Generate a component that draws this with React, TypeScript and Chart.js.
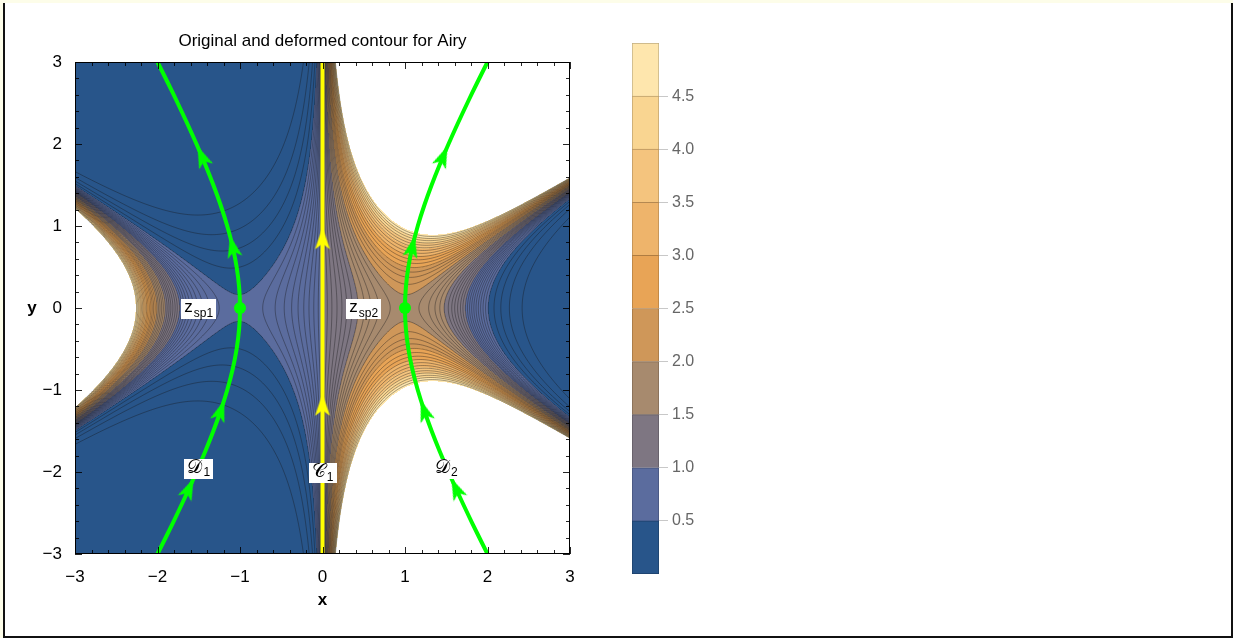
import React, { useEffect, useRef } from "react";
import { Chart, registerables } from "chart.js";

Chart.register(...registerables);

const FONT = "'Liberation Sans', Arial, Helvetica, sans-serif";
const SCRIPT_FONT = "'DejaVu Sans', 'DejaVu Serif', 'Noto Sans', serif";

// ---------- axes ----------
const xTickValues = [-3, -2, -1, 0, 1, 2, 3];
const xTickLabels = ["\u22123", "\u22122", "\u22121", "0", "1", "2", "3"];
const yTickValues = [-3, -2, -1, 0, 1, 2, 3];
const yTickLabels = ["\u22123", "\u22122", "\u22121", "0", "1", "2", "3"];
const frameMinorStep = 0.2;
const plotTitle = "Original and deformed contour for Airy";
const xAxisTitle = "x";
const yAxisTitle = "y";

// ---------- contour field: |exp(z - z^3/3)|, z = x + i y ----------
const bandEdges = [0, 0.5, 1, 1.5, 2, 2.5, 3, 3.5, 4, 4.5, 5];
const bandColors = [
  "#28558a", "#5b6c9e", "#7e7682", "#a78a6e", "#cf9759",
  "#e8a456", "#eeb46b", "#f4c47e", "#f9d591", "#fee6ad",
];
const bandBorderColors = [
  "#1d3f68", "#44527a", "#5f5962", "#7e6853", "#9c7243",
  "#af7c41", "#b48851", "#b8945f", "#bca06d", "#bfad82",
];
const contourLevels = [
  0.1, 0.2, 0.3, 0.4, 0.5,
  0.55, 0.6, 0.65, 0.7, 0.75, 0.8, 0.85, 0.9, 0.95, 1.0,
  1.06, 1.12, 1.19, 1.26, 1.33, 1.41, 1.5,
  1.59, 1.68, 1.78, 1.89, 2.0,
  2.12, 2.25, 2.38, 2.52, 2.67, 2.83, 3.0,
  3.18, 3.37, 3.57, 3.78, 4.0, 4.24, 4.49, 4.75,
];
const fieldExponent = (x: number, y: number) => x - (x * x * x) / 3 + x * y * y;

// ---------- colour bar ----------
const colorbarTicks = [0.5, 1, 1.5, 2, 2.5, 3, 3.5, 4, 4.5];
const colorbarLabels = ["0.5", "1.0", "1.5", "2.0", "2.5", "3.0", "3.5", "4.0", "4.5"];

// ---------- contours ----------
const c1PathX = [0, 0];
const c1PathY = [-3, 3];
const dPathY = [
  -3, -2.75, -2.5, -2.25, -2, -1.75, -1.5, -1.25, -1, -0.75, -0.5, -0.25, 0,
  0.25, 0.5, 0.75, 1, 1.25, 1.5, 1.75, 2, 2.25, 2.5, 2.75, 3,
];
const d1PathX = [
  -2, -1.8764, -1.7559, -1.6394, -1.5275, -1.4216, -1.3229, -1.2332, -1.1547, -1.0897, -1.0408, -1.0104, -1,
  -1.0104, -1.0408, -1.0897, -1.1547, -1.2332, -1.3229, -1.4216, -1.5275, -1.6394, -1.7559, -1.8764, -2,
];
const d2PathX = [
  2, 1.8764, 1.7559, 1.6394, 1.5275, 1.4216, 1.3229, 1.2332, 1.1547, 1.0897, 1.0408, 1.0104, 1,
  1.0104, 1.0408, 1.0897, 1.1547, 1.2332, 1.3229, 1.4216, 1.5275, 1.6394, 1.7559, 1.8764, 2,
];
const saddleX = [-1, 1];
const saddleY = [0, 0];
const greenArrowX = [-1.6166, -1.2332, -1.0897, -1.4631, 1.6166, 1.2332, 1.0897, 1.4631];
const greenArrowY = [-2.2, -1.25, 0.75, 1.85, -2.2, -1.25, 0.75, 1.85];
const greenArrowAngle = [24.4, 18.7, -12.9, -22.9, -24.4, -18.7, 12.9, 22.9];
const yellowArrowX = [0, 0];
const yellowArrowY = [-1.18, 0.85];
const yellowArrowAngle = [0, 0];

// ---------- labels ----------
const labelX = [-1.5, 0.5, -1.5, 0, 1.5];
const labelY = [0, 0, -1.95, -2, -1.95];
const labelMain = ["z", "z", "\u{1D49F}", "\u{1D49E}", "\u{1D49F}"];
const labelSub = ["sp1", "sp2", "1", "1", "2"];
const labelScript = [false, false, true, true, true];

const GREEN = "#00ff00";
const YELLOW = "#ffff00";

function hexToRgb(h: string) {
  const n = parseInt(h.slice(1), 16);
  return [(n >> 16) & 255, (n >> 8) & 255, n & 255];
}

function makeArrow(color: string) {
  const c = document.createElement("canvas");
  c.width = 18;
  c.height = 24;
  const g = c.getContext("2d")!;
  g.fillStyle = color;
  g.beginPath();
  g.moveTo(9, 1);
  g.lineTo(16.5, 23);
  g.lineTo(9, 17.5);
  g.lineTo(1.5, 23);
  g.closePath();
  g.fill();
  return c;
}

const pts = (xs: number[], ys: number[]) => xs.map((x, i) => ({ x, y: ys[i] }));

const fieldPlugin = {
  id: "field",
  beforeDatasetsDraw(chart: any) {
    const { ctx, chartArea: a } = chart;
    const sx = chart.scales.x;
    const sy = chart.scales.y;
    const W = Math.round(a.right - a.left);
    const H = Math.round(a.bottom - a.top);
    const img = ctx.createImageData(W, H);
    const rgb = bandColors.map(hexToRgb);
    const bw = bandEdges[1] - bandEdges[0];
    const nb = bandColors.length;
    const xs = new Float64Array(W);
    for (let i = 0; i < W; i++) xs[i] = sx.getValueForPixel(a.left + i + 0.5);
    for (let j = 0; j < H; j++) {
      const yv = sy.getValueForPixel(a.top + j + 0.5);
      for (let i = 0; i < W; i++) {
        const v = Math.exp(fieldExponent(xs[i], yv));
        const k = Math.floor((v - bandEdges[0]) / bw);
        const o = (j * W + i) * 4;
        if (k >= nb) {
          img.data[o] = 255; img.data[o + 1] = 255; img.data[o + 2] = 255;
        } else {
          const c = rgb[Math.max(0, k)];
          img.data[o] = c[0]; img.data[o + 1] = c[1]; img.data[o + 2] = c[2];
        }
        img.data[o + 3] = 255;
      }
    }
    ctx.putImageData(img, a.left, a.top);

    // contour lines (marching squares on the log of the field)
    const nx = Math.ceil(W / 2);
    const ny = Math.ceil(H / 2);
    const cw = W / nx;
    const ch = H / ny;
    const F: Float64Array[] = [];
    for (let j = 0; j <= ny; j++) {
      const row = new Float64Array(nx + 1);
      const yv = sy.getValueForPixel(a.top + j * ch);
      for (let i = 0; i <= nx; i++) row[i] = fieldExponent(sx.getValueForPixel(a.left + i * cw), yv);
      F.push(row);
    }
    const levels = contourLevels.map((L) => Math.log(L));
    ctx.save();
    ctx.beginPath();
    ctx.rect(a.left, a.top, a.right - a.left, a.bottom - a.top);
    ctx.clip();
    ctx.beginPath();
    for (let j = 0; j < ny; j++) {
      for (let i = 0; i < nx; i++) {
        const f0 = F[j][i], f1 = F[j][i + 1], f2 = F[j + 1][i + 1], f3 = F[j + 1][i];
        const mn = Math.min(f0, f1, f2, f3), mx = Math.max(f0, f1, f2, f3);
        if (mx < levels[0] || mn > levels[levels.length - 1]) continue;
        const x0 = a.left + i * cw, y0 = a.top + j * ch;
        for (let li = 0; li < levels.length; li++) {
          const L = levels[li];
          if (L < mn || L >= mx) continue;
          const cr: number[][] = [];
          if ((f0 < L) !== (f1 < L)) cr.push([x0 + cw * (L - f0) / (f1 - f0), y0]);
          if ((f1 < L) !== (f2 < L)) cr.push([x0 + cw, y0 + ch * (L - f1) / (f2 - f1)]);
          if ((f3 < L) !== (f2 < L)) cr.push([x0 + cw * (L - f3) / (f2 - f3), y0 + ch]);
          if ((f0 < L) !== (f3 < L)) cr.push([x0, y0 + ch * (L - f0) / (f3 - f0)]);
          if (cr.length === 2) {
            ctx.moveTo(cr[0][0], cr[0][1]);
            ctx.lineTo(cr[1][0], cr[1][1]);
          } else if (cr.length === 4) {
            const fc = (f0 + f1 + f2 + f3) / 4;
            if ((fc < L) !== (f0 < L)) {
              ctx.moveTo(cr[0][0], cr[0][1]); ctx.lineTo(cr[3][0], cr[3][1]);
              ctx.moveTo(cr[1][0], cr[1][1]); ctx.lineTo(cr[2][0], cr[2][1]);
            } else {
              ctx.moveTo(cr[0][0], cr[0][1]); ctx.lineTo(cr[1][0], cr[1][1]);
              ctx.moveTo(cr[2][0], cr[2][1]); ctx.lineTo(cr[3][0], cr[3][1]);
            }
          }
        }
      }
    }
    ctx.strokeStyle = "rgba(20,20,25,0.5)";
    ctx.lineWidth = 0.75;
    ctx.stroke();
    ctx.restore();
  },
};

const decorPlugin = {
  id: "decor",
  afterDatasetsDraw(chart: any) {
    const { ctx } = chart;
    const sx = chart.scales.x;
    const sy = chart.scales.y;
    // labels with white boxes
    for (let k = 0; k < labelMain.length; k++) {
      const px = sx.getPixelForValue(labelX[k]);
      const py = sy.getPixelForValue(labelY[k]);
      const script = labelScript[k];
      const mainFont = script ? `19px ${SCRIPT_FONT}` : `17px ${FONT}`;
      const subFont = script ? `12px ${FONT}` : `12px ${FONT}`;
      ctx.font = mainFont;
      const w1 = ctx.measureText(labelMain[k]).width;
      ctx.font = subFont;
      const w2 = ctx.measureText(labelSub[k]).width;
      const total = w1 + 1 + w2;
      const left = px - total / 2;
      ctx.fillStyle = "#ffffff";
      ctx.fillRect(Math.round(left - 3), Math.round(py - 9), Math.round(total + 6), 20);
      ctx.fillStyle = "#000000";
      ctx.textAlign = "left";
      ctx.textBaseline = "alphabetic";
      ctx.font = mainFont;
      ctx.fillText(labelMain[k], left, script ? py + 5 : py + 4);
      ctx.font = subFont;
      ctx.fillText(labelSub[k], left + w1 + 1, py + 8.5);
    }
  },
  afterDraw(chart: any) {
    const { ctx, chartArea: a } = chart;
    const sx = chart.scales.x;
    const sy = chart.scales.y;
    ctx.save();
    // frame
    ctx.strokeStyle = "#000";
    ctx.lineWidth = 1;
    ctx.strokeRect(a.left + 0.5, a.top + 0.5, a.right - a.left - 1, a.bottom - a.top - 1);
    // ticks
    ctx.strokeStyle = "rgba(0,0,0,0.85)";
    ctx.beginPath();
    const n = Math.round((sx.max - sx.min) / frameMinorStep);
    for (let t = 0; t <= n; t++) {
      const v = sx.min + t * frameMinorStep;
      const major = Math.abs(v - Math.round(v)) < 1e-6;
      const len = major ? 7 : 4;
      const px = Math.round(sx.getPixelForValue(v)) + 0.5;
      ctx.moveTo(px, a.bottom); ctx.lineTo(px, a.bottom - len);
      ctx.moveTo(px, a.top); ctx.lineTo(px, a.top + len);
    }
    const m = Math.round((sy.max - sy.min) / frameMinorStep);
    for (let t = 0; t <= m; t++) {
      const v = sy.min + t * frameMinorStep;
      const major = Math.abs(v - Math.round(v)) < 1e-6;
      const len = major ? 7 : 4;
      const py = Math.round(sy.getPixelForValue(v)) + 0.5;
      ctx.moveTo(a.left, py); ctx.lineTo(a.left + len, py);
      ctx.moveTo(a.right, py); ctx.lineTo(a.right - len, py);
    }
    ctx.stroke();
    // title and axis titles
    ctx.fillStyle = "#000";
    ctx.textAlign = "center";
    ctx.textBaseline = "alphabetic";
    ctx.font = `17px ${FONT}`;
    ctx.fillText(plotTitle, (a.left + a.right) / 2, 46);
    ctx.font = `bold 17px ${FONT}`;
    ctx.fillText(xAxisTitle, (a.left + a.right) / 2, 605);
    ctx.fillText(yAxisTitle, 32, (a.top + a.bottom) / 2 + 5);
    ctx.restore();
  },
};

export default function App() {
  const mainRef = useRef<HTMLCanvasElement>(null);
  const barRef = useRef<HTMLCanvasElement>(null);

  useEffect(() => {
    const greenArrow = makeArrow(GREEN);
    const yellowArrow = makeArrow(YELLOW);

    const main = new Chart(mainRef.current!, {
      type: "scatter",
      data: {
        datasets: [
          {
            data: pts(c1PathX, c1PathY),
            showLine: true,
            borderColor: YELLOW,
            borderWidth: 4,
            pointRadius: 0,
            clip: 0,
          },
          {
            data: pts(d1PathX, dPathY),
            showLine: true,
            borderColor: GREEN,
            borderWidth: 4,
            pointRadius: 0,
            tension: 0.3,
            clip: 0,
          },
          {
            data: pts(d2PathX, dPathY),
            showLine: true,
            borderColor: GREEN,
            borderWidth: 4,
            pointRadius: 0,
            tension: 0.3,
            clip: 0,
          },
          {
            data: pts(greenArrowX, greenArrowY),
            pointStyle: greenArrow as any,
            pointRadius: 10,
            pointRotation: greenArrowAngle as any,
          },
          {
            data: pts(yellowArrowX, yellowArrowY),
            pointStyle: yellowArrow as any,
            pointRadius: 10,
            pointRotation: yellowArrowAngle as any,
          },
          {
            data: pts(saddleX, saddleY),
            pointRadius: 6,
            pointBackgroundColor: GREEN,
            pointBorderWidth: 0,
            borderColor: GREEN,
          },
        ] as any,
      },
      options: {
        responsive: false,
        devicePixelRatio: 1,
        animation: false,
        events: [],
        layout: { padding: { left: 0, top: 62, right: 663, bottom: 54 } },
        plugins: {
          legend: { display: false },
          tooltip: { enabled: false },
          title: { display: false },
        },
        scales: {
          x: {
            type: "linear",
            min: -3,
            max: 3,
            afterBuildTicks: (s: any) => {
              s.ticks = xTickValues.map((v) => ({ value: v }));
            },
            afterFit: (s: any) => {
              s.height = 30;
            },
            grid: { display: false },
            border: { display: false },
            ticks: {
              color: "#000",
              padding: 5,
              maxRotation: 0,
              autoSkip: false,
              font: { family: FONT, size: 17 },
              callback: (v: any) => xTickLabels[xTickValues.indexOf(Number(v))] ?? "",
            },
          },
          y: {
            type: "linear",
            min: -3,
            max: 3,
            afterBuildTicks: (s: any) => {
              s.ticks = yTickValues.map((v) => ({ value: v }));
            },
            afterFit: (s: any) => {
              s.width = 75;
            },
            grid: { display: false },
            border: { display: false },
            ticks: {
              color: "#000",
              padding: 5,
              autoSkip: false,
              font: { family: FONT, size: 17 },
              callback: (v: any) => yTickLabels[yTickValues.indexOf(Number(v))] ?? "",
            },
          },
        },
      } as any,
      plugins: [fieldPlugin, decorPlugin],
    });

    const bar = new Chart(barRef.current!, {
      type: "bar",
      data: {
        labels: [""],
        datasets: bandColors.map((c, k) => ({
          data: [bandEdges[k + 1] - bandEdges[k]],
          backgroundColor: c,
          borderColor: bandBorderColors[k],
          borderWidth: { left: 1, right: 1, top: 1, bottom: k === 0 ? 1 : 0 },
          borderSkipped: false,
          barPercentage: 1,
          categoryPercentage: 1,
          stack: "s",
        })) as any,
      },
      options: {
        responsive: false,
        devicePixelRatio: 1,
        animation: false,
        events: [],
        layout: { padding: { left: 32, top: 43, right: 0, bottom: 64 } },
        plugins: { legend: { display: false }, tooltip: { enabled: false } },
        scales: {
          x: { stacked: true, display: false },
          y: {
            stacked: true,
            min: bandEdges[0],
            max: bandEdges[bandEdges.length - 1],
            position: "right",
            afterBuildTicks: (s: any) => {
              s.ticks = colorbarTicks.map((v) => ({ value: v }));
            },
            afterFit: (s: any) => {
              s.width = 61;
            },
            grid: { drawOnChartArea: false, drawTicks: true, tickLength: 9, color: "#c8c8c8" },
            border: { display: false },
            ticks: {
              color: "#666",
              padding: 4,
              autoSkip: false,
              font: { family: FONT, size: 16 },
              callback: (v: any) => colorbarLabels[colorbarTicks.indexOf(Number(v))] ?? "",
            },
          },
        },
      } as any,
    });

    return () => {
      main.destroy();
      bar.destroy();
    };
  }, []);

  return (
    <div
      style={{
        position: "fixed",
        left: 0,
        top: 0,
        width: 1233,
        height: 638,
        background: "#fdfde9",
        overflow: "hidden",
      }}
    >
      <div
        style={{
          position: "absolute",
          left: 3,
          top: 3,
          width: 1226,
          height: 633,
          background: "#ffffff",
          borderLeft: "2px solid #111",
          borderRight: "2px solid #111",
          borderBottom: "2px solid #111",
        }}
      />
      <canvas
        ref={mainRef}
        width={1233}
        height={638}
        style={{ position: "absolute", left: 0, top: 0, width: 1233, height: 638 }}
      />
      <canvas
        ref={barRef}
        width={120}
        height={638}
        style={{ position: "absolute", left: 600, top: 0, width: 120, height: 638 }}
      />
    </div>
  );
}
